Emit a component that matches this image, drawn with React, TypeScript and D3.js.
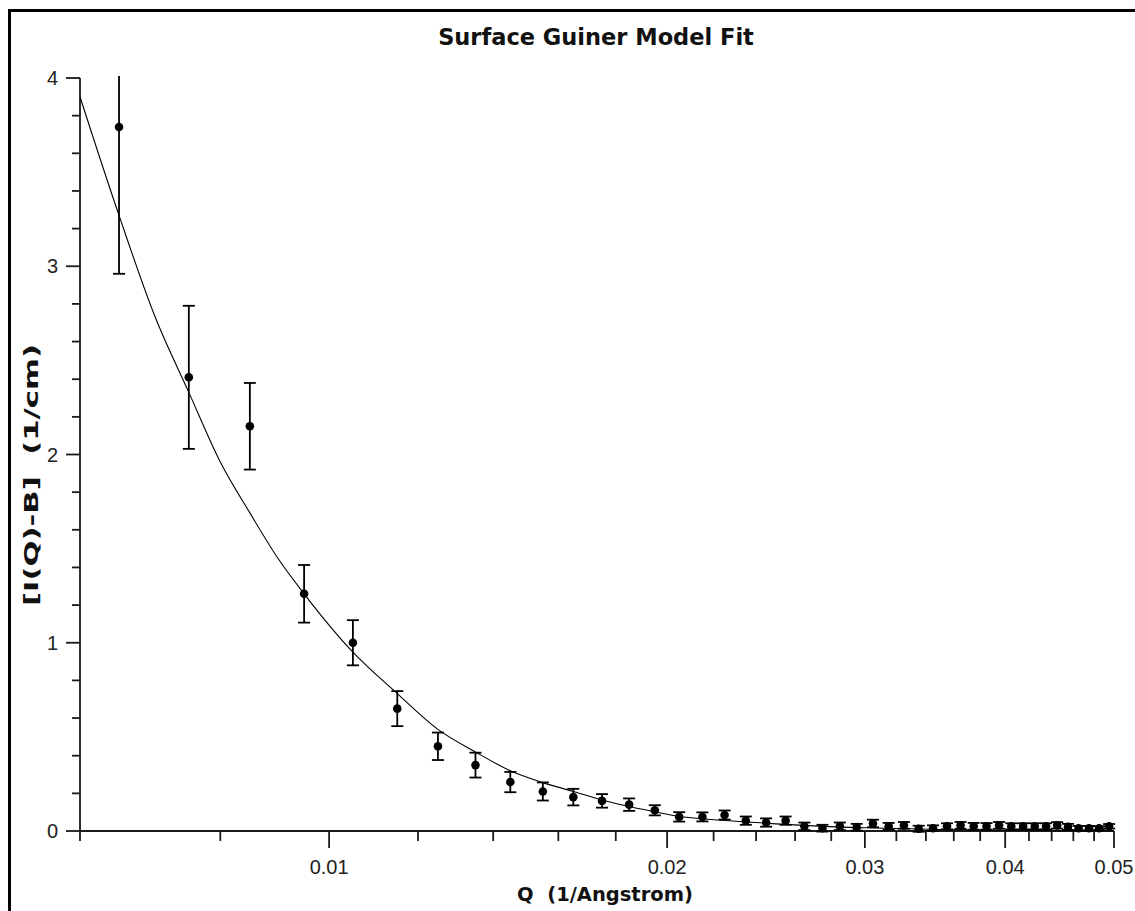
import React from "react";
import * as d3 from "d3";

// measured points (Q in 1/Angstrom, I(Q)-B in 1/cm)
const qValues = [
  0.0065, 0.0075, 0.0085, 0.0095, 0.0105, 0.0115, 0.0125, 0.0135, 0.0145, 0.0155,
  0.0165, 0.0175, 0.0185, 0.0195, 0.0205, 0.0215, 0.0225, 0.0235, 0.0245, 0.0255,
  0.0265, 0.0275, 0.0285, 0.0295, 0.0305, 0.0315, 0.0325, 0.0335, 0.0345, 0.0355,
  0.0365, 0.0375, 0.0385, 0.0395, 0.0405, 0.0415, 0.0425, 0.0435, 0.0445, 0.0455,
  0.0465, 0.0475, 0.0485, 0.0495,
];
const intensity = [
  3.74, 2.41, 2.15, 1.26, 1.0, 0.65, 0.45, 0.35, 0.26, 0.21,
  0.18, 0.16, 0.14, 0.11, 0.075, 0.075, 0.085, 0.055, 0.045, 0.055,
  0.025, 0.015, 0.025, 0.02, 0.04, 0.025, 0.03, 0.012, 0.015, 0.025,
  0.03, 0.025, 0.025, 0.03, 0.025, 0.025, 0.025, 0.025, 0.03, 0.022,
  0.015, 0.015, 0.015, 0.025,
];
const errors = [
  0.78, 0.38, 0.23, 0.153, 0.12, 0.093, 0.073, 0.066, 0.054, 0.048,
  0.044, 0.036, 0.033, 0.027, 0.025, 0.024, 0.024, 0.022, 0.022, 0.022,
  0.02, 0.018, 0.02, 0.018, 0.02, 0.018, 0.018, 0.016, 0.015, 0.016,
  0.018, 0.018, 0.017, 0.018, 0.016, 0.016, 0.016, 0.016, 0.017, 0.016,
  0.012, 0.012, 0.01, 0.012,
];

// model fit curve
const fitQ = [
  0.006, 0.0065, 0.007, 0.0075, 0.008, 0.0085, 0.009, 0.0095, 0.0105, 0.0115,
  0.0125, 0.0135, 0.0145, 0.0155, 0.0165, 0.0175, 0.0185, 0.0195, 0.0205, 0.0215,
  0.023, 0.025, 0.027, 0.03, 0.035, 0.04, 0.045, 0.05,
];
const fitValues = [
  3.9, 3.27, 2.73, 2.33, 1.96, 1.69, 1.45, 1.26, 0.95, 0.73,
  0.54, 0.42, 0.32, 0.257, 0.21, 0.165, 0.13, 0.102, 0.077, 0.065,
  0.052, 0.038, 0.027, 0.017, 0.008, 0.004, 0.002, 0.001,
];

const xMajorTicks = [0.01, 0.02, 0.03, 0.04, 0.05];
const xTickLabels = ["0.01", "0.02", "0.03", "0.04", "0.05"];
const xMinorTicks = [
  0.006, 0.008, 0.012, 0.014, 0.016, 0.018, 0.022, 0.024, 0.026, 0.028,
  0.032, 0.034, 0.036, 0.038, 0.042, 0.044, 0.046, 0.048,
];
const yMajorTicks = [0, 1, 2, 3, 4];
const yTickLabels = ["0", "1", "2", "3", "4"];
const yMinorTicks = [
  0.2, 0.4, 0.6, 0.8, 1.2, 1.4, 1.6, 1.8, 2.2, 2.4, 2.6, 2.8, 3.2, 3.4, 3.6, 3.8,
];

const App = () => {
  const width = 1135,
    height = 911;
  const plot = { left: 80, right: 1114, top: 78, bottom: 831 };

  const x = d3.scaleLog().domain([0.006, 0.05]).range([plot.left, plot.right]);
  const y = d3.scaleLinear().domain([0, 4]).range([plot.bottom, plot.top]);

  const fitLine = d3
    .line<number>()
    .x((d, i) => x(fitQ[i]))
    .y((d) => y(d))
    .curve(d3.curveMonotoneX);

  const axisColor = "#1a1a1a";
  const tickFont = "'Liberation Sans', Arial, sans-serif";
  const boldFont = "'DejaVu Sans', Verdana, sans-serif";

  return (
    <div style={{ position: "absolute", left: 0, top: 0 }}>
      <svg width={width} height={height} style={{ display: "block", background: "#fff" }}>
        <defs>
          <clipPath id="plotClip">
            <rect x={plot.left - 10} y={plot.top - 2} width={plot.right - plot.left + 20} height={plot.bottom - plot.top + 12} />
          </clipPath>
        </defs>

        {/* frame */}
        <rect x={9.5} y={10.5} width={1200} height={1000} fill="none" stroke="#000" strokeWidth={3} />

        <text
          x={596}
          y={45}
          textAnchor="middle"
          fontFamily={boldFont}
          fontWeight="bold"
          fontSize={22.5}
          fill="#111"
        >
          Surface Guiner Model Fit
        </text>

        {/* y axis */}
        <line x1={plot.left} x2={plot.left} y1={plot.top} y2={plot.bottom} stroke={axisColor} strokeWidth={1.8} />
        {yMajorTicks.map((t, i) => (
          <g key={"ym" + t}>
            <line x1={plot.left - 14} x2={plot.left} y1={y(t)} y2={y(t)} stroke={axisColor} strokeWidth={1.8} />
            <text
              x={58}
              y={y(t)}
              dy="0.36em"
              textAnchor="end"
              fontFamily={tickFont}
              fontSize={20}
              fill="#222"
            >
              {yTickLabels[i]}
            </text>
          </g>
        ))}
        {yMinorTicks.map((t) => (
          <line key={"yn" + t} x1={plot.left - 8} x2={plot.left} y1={y(t)} y2={y(t)} stroke={axisColor} strokeWidth={1.8} />
        ))}

        {/* x axis */}
        <line x1={plot.left} x2={plot.right} y1={plot.bottom} y2={plot.bottom} stroke={axisColor} strokeWidth={1.8} />
        {xMinorTicks.map((t) => (
          <line key={"xn" + t} x1={x(t)} x2={x(t)} y1={plot.bottom} y2={plot.bottom + 10} stroke={axisColor} strokeWidth={1.8} />
        ))}
        {xMajorTicks.map((t, i) => (
          <g key={"xm" + t}>
            <line x1={x(t)} x2={x(t)} y1={plot.bottom} y2={plot.bottom + 17} stroke={axisColor} strokeWidth={1.8} />
            <text
              x={x(t)}
              y={874}
              textAnchor="middle"
              fontFamily={tickFont}
              fontSize={20}
              fill="#222"
            >
              {xTickLabels[i]}
            </text>
          </g>
        ))}

        <text
          x={605}
          y={901}
          textAnchor="middle"
          fontFamily={boldFont}
          fontWeight="bold"
          fontSize={19.5}
          fill="#111"
          style={{ whiteSpace: "pre" }}
        >
          {"Q  (1/Angstrom)"}
        </text>
        <text
          transform="translate(38,475) rotate(-90)"
          textAnchor="middle"
          fontFamily={boldFont}
          fontWeight="bold"
          fontSize={19}
          fill="#111"
          textLength={262}
          lengthAdjust="spacingAndGlyphs"
          style={{ whiteSpace: "pre" }}
        >
          {"[I(Q)-B]  (1/cm)"}
        </text>

        {/* fit */}
        <path d={fitLine(fitValues) || ""} fill="none" stroke="#000" strokeWidth={1.1} />

        {/* data with error bars */}
        <g clipPath="url(#plotClip)">
          {qValues.map((q, i) => {
            const cx = x(q);
            const hi = intensity[i] + errors[i];
            const lo = intensity[i] - errors[i];
            return (
              <g key={"p" + i} stroke="#000" strokeWidth={1.8}>
                <line x1={cx} x2={cx} y1={y(hi)} y2={y(lo)} />
                {hi <= 4 && <line x1={cx - 6} x2={cx + 6} y1={y(hi)} y2={y(hi)} />}
                <line x1={cx - 6} x2={cx + 6} y1={y(lo)} y2={y(lo)} />
                <circle cx={cx} cy={y(intensity[i])} r={4.3} fill="#000" stroke="none" />
              </g>
            );
          })}
        </g>
      </svg>
    </div>
  );
};

export default App;
